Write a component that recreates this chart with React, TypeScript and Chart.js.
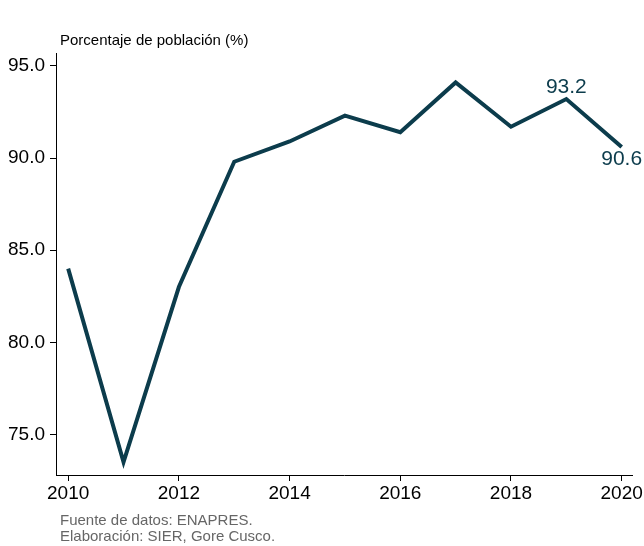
import React, { useEffect, useRef } from "react";
import { Chart, registerables } from "chart.js";

Chart.register(...registerables);

const years = [2010, 2011, 2012, 2013, 2014, 2015, 2016, 2017, 2018, 2019, 2020];
const values = [84.0, 73.5, 83.0, 89.8, 90.9, 92.3, 91.4, 94.1, 91.7, 93.2, 90.6];
const yTicks = [75, 80, 85, 90, 95];
const xTicks = [2010, 2012, 2014, 2016, 2018, 2020];
const title = "Porcentaje de población (%)";
const footer = ["Fuente de datos: ENAPRES.", "Elaboración: SIER, Gore Cusco."];
const labelled = [
  { idx: 9, pos: "above" },
  { idx: 10, pos: "below" },
];

const LINE = "#0c3c4c";
const FONT = "'Liberation Sans', Arial, sans-serif";

export default function App() {
  const ref = useRef<HTMLCanvasElement | null>(null);
  useEffect(() => {
    document.body.style.margin = "0";
    const canvas = ref.current!;
    const extras = {
      id: "extras",
      afterDatasetsDraw(chart: any) {
        const ctx = chart.ctx;
        const meta = chart.getDatasetMeta(0);
        ctx.save();
        ctx.fillStyle = LINE;
        ctx.font = `21px ${FONT}`;
        ctx.textAlign = "center";
        labelled.forEach((l) => {
          const p = meta.data[l.idx];
          const txt = values[l.idx].toFixed(1);
          if (l.pos === "above") {
            ctx.textBaseline = "bottom";
            ctx.fillText(txt, p.x, p.y - 1);
          } else {
            ctx.textBaseline = "top";
            ctx.fillText(txt, p.x, p.y + 2);
          }
        });
        ctx.fillStyle = "#000";
        ctx.font = `15px ${FONT}`;
        ctx.textAlign = "left";
        ctx.textBaseline = "middle";
        ctx.fillText(title, 60, 41);
        ctx.fillStyle = "#666";
        ctx.fillText(footer[0], 60, 521);
        ctx.fillText(footer[1], 60, 537);
        ctx.restore();
      },
    };
    const chart = new Chart(canvas, {
      type: "line",
      data: {
        datasets: [
          {
            data: years.map((y, i) => ({ x: y, y: values[i] })),
            borderColor: LINE,
            borderWidth: 4,
            pointRadius: 0,
            tension: 0,
            fill: false,
          },
        ],
      },
      options: {
        animation: false,
        responsive: false,
        layout: { padding: { top: 53, right: 10, left: 0, bottom: 0 } },
        plugins: { legend: { display: false }, tooltip: { enabled: false } },
        scales: {
          x: {
            type: "linear",
            min: 2009.78,
            max: 2020.2,
            afterBuildTicks: (s: any) => {
              s.ticks = xTicks.map((v) => ({ value: v }));
            },
            afterFit: (s: any) => {
              s.height = 71;
            },
            grid: { drawOnChartArea: false, tickLength: 6, color: "#000", tickWidth: 1 },
            border: { color: "#000", width: 1 },
            ticks: {
              color: "#000",
              font: { family: FONT, size: 19 },
              padding: 1,
              maxRotation: 0,
              callback: (v: any) => String(v),
            },
          },
          y: {
            type: "linear",
            min: 72.8,
            max: 95.7,
            afterBuildTicks: (s: any) => {
              s.ticks = yTicks.map((v) => ({ value: v }));
            },
            afterFit: (s: any) => {
              s.width = 56;
            },
            grid: { drawOnChartArea: false, tickLength: 6, color: "#000", tickWidth: 1 },
            border: { color: "#000", width: 1 },
            ticks: {
              color: "#000",
              font: { family: FONT, size: 19 },
              padding: 5,
              callback: (v: any) => Number(v).toFixed(1),
            },
          },
        },
      },
      plugins: [extras],
    } as any);
    return () => chart.destroy();
  }, []);
  return <canvas ref={ref} width={644} height={546} style={{ display: "block" }} />;
}
